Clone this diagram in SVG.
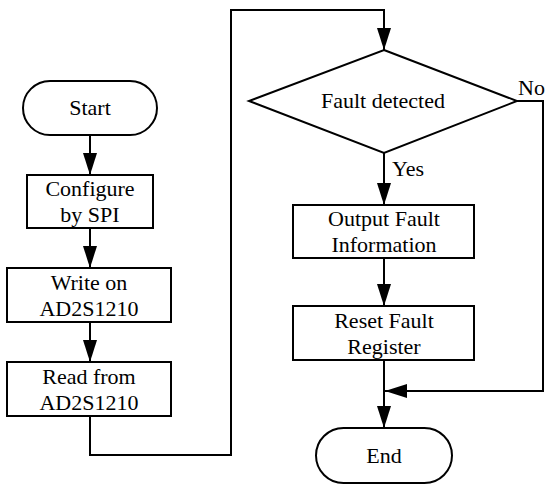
<svg xmlns="http://www.w3.org/2000/svg" width="550" height="489" viewBox="0 0 550 489">
<defs>
<style>
.s{fill:#fff;stroke:#000;stroke-width:2}
.c{fill:none;stroke:#000;stroke-width:2}
text{font-size:22px;fill:#000;font-family:'Liberation Serif','Times New Roman',serif}
.m{text-anchor:middle}
</style>
<marker id="a" viewBox="0 0 22 14" refX="22" refY="7" markerWidth="22" markerHeight="14" markerUnits="userSpaceOnUse" orient="auto">
<path d="M0,0L22,7L0,14Z" fill="#000"/>
</marker>
</defs>
<rect width="550" height="489" fill="#fff"/>
<g id="connectors">
<path class="c" d="M90,135V175" marker-end="url(#a)"/>
<path class="c" d="M90,228V268" marker-end="url(#a)"/>
<path class="c" d="M90,322V362" marker-end="url(#a)"/>
<path class="c" d="M90,416V455H231V10H384V50" marker-end="url(#a)"/>
<path class="c" d="M384,153V205" marker-end="url(#a)"/>
<path class="c" d="M384,258V306" marker-end="url(#a)"/>
<path class="c" d="M384,360V428" marker-end="url(#a)"/>
<path class="c" d="M517,101H543V391H385" marker-end="url(#a)"/>
<text x="518" y="95">No</text>
<text x="392" y="176">Yes</text>
</g>
<g id="start">
<rect class="s" x="23" y="81" width="134" height="54" rx="27"/>
<text class="m" x="90" y="115">Start</text>
</g>
<g id="configure">
<rect class="s" x="27" y="175" width="126" height="53"/>
<text class="m" x="90" y="196">Configure</text>
<text class="m" x="90" y="222">by SPI</text>
</g>
<g id="write">
<rect class="s" x="7" y="268" width="164" height="54"/>
<text class="m" x="89" y="290">Write on</text>
<text class="m" x="89" y="316">AD2S1210</text>
</g>
<g id="read">
<rect class="s" x="7" y="362" width="164" height="54"/>
<text class="m" x="89" y="384">Read from</text>
<text class="m" x="89" y="410">AD2S1210</text>
</g>
<g id="fault">
<path class="s" d="M384,50L517,101L384,153L249,101Z"/>
<text class="m" x="383" y="108">Fault detected</text>
</g>
<g id="output">
<rect class="s" x="293" y="205" width="181" height="53"/>
<text class="m" x="384" y="226">Output Fault</text>
<text class="m" x="384" y="252">Information</text>
</g>
<g id="reset">
<rect class="s" x="293" y="306" width="181" height="54"/>
<text class="m" x="384" y="328">Reset Fault</text>
<text class="m" x="384" y="354">Register</text>
</g>
<g id="end">
<rect class="s" x="316" y="428" width="136" height="55" rx="27.5"/>
<text class="m" x="384" y="463">End</text>
</g>
</svg>
